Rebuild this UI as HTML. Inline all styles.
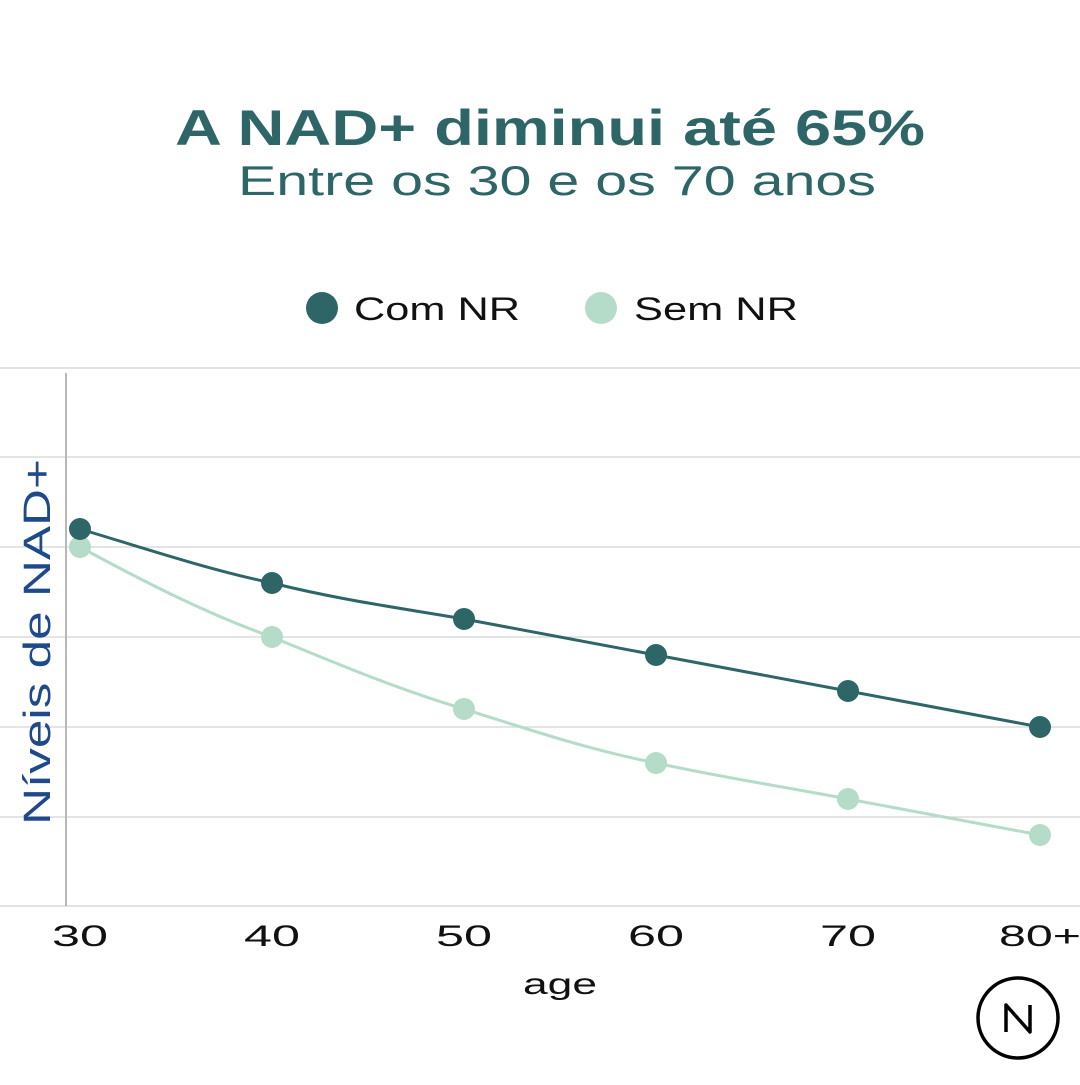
<!DOCTYPE html>
<html><head><meta charset="utf-8"><style>
html,body{margin:0;padding:0;background:#fff;}
body{width:1080px;height:1080px;overflow:hidden;}
</style></head><body>
<svg width="1080" height="1080" viewBox="0 0 1080 1080" xmlns="http://www.w3.org/2000/svg" font-family="Liberation Sans, sans-serif">
<rect width="1080" height="1080" fill="#fff"/>
<text x="550" y="145" text-anchor="middle" font-size="50" font-weight="bold" fill="#2e6667" textLength="750" lengthAdjust="spacingAndGlyphs">A NAD+ diminui até 65%</text>
<text x="557" y="195" text-anchor="middle" font-size="42" fill="#2e6667" textLength="638" lengthAdjust="spacingAndGlyphs">Entre os 30 e os 70 anos</text>
<circle cx="322" cy="308" r="16" fill="#2e6667"/>
<text x="354" y="320" font-size="32" fill="#111" textLength="166" lengthAdjust="spacingAndGlyphs">Com NR</text>
<circle cx="601" cy="308" r="16" fill="#b5dcc9"/>
<text x="634" y="320" font-size="32" fill="#111" textLength="164" lengthAdjust="spacingAndGlyphs">Sem NR</text>
<g stroke="#d4d4d4" stroke-width="1.2">
<line x1="0" y1="368" x2="1080" y2="368"/>
<line x1="0" y1="457" x2="1080" y2="457"/>
<line x1="0" y1="547" x2="1080" y2="547"/>
<line x1="0" y1="637" x2="1080" y2="637"/>
<line x1="0" y1="727" x2="1080" y2="727"/>
<line x1="0" y1="817" x2="1080" y2="817"/>
<line x1="0" y1="906" x2="1080" y2="906"/>
</g>
<line x1="66" y1="373" x2="66" y2="906" stroke="#b8b8b8" stroke-width="2"/>
<text transform="translate(50,642) rotate(-90)" text-anchor="middle" font-size="38" fill="#1f4a8a" textLength="366" lengthAdjust="spacingAndGlyphs">Níveis de NAD+</text>
<path d="M80,547 C150,585 210,615 272,637 C340,665 400,690 464,709 C530,730 590,750 656,763 C720,777 785,787 848,799 L1040,835" fill="none" stroke="#b5dcc9" stroke-width="3"/>
<path d="M80,529 C150,550 210,570 272,583 C340,600 400,608 464,619 L656,655 L848,691 L1040,727" fill="none" stroke="#2e6667" stroke-width="3"/>
<g fill="#b5dcc9">
<circle cx="80" cy="547" r="11"/><circle cx="272" cy="637" r="11"/><circle cx="464" cy="709" r="11"/><circle cx="656" cy="763" r="11"/><circle cx="848" cy="799" r="11"/><circle cx="1040" cy="835" r="11"/>
</g>
<g fill="#2e6667">
<circle cx="80" cy="529" r="11"/><circle cx="272" cy="583" r="11"/><circle cx="464" cy="619" r="11"/><circle cx="656" cy="655" r="11"/><circle cx="848" cy="691" r="11"/><circle cx="1040" cy="727" r="11"/>
</g>
<g font-size="30" fill="#111" text-anchor="middle">
<text x="80" y="946" textLength="56" lengthAdjust="spacingAndGlyphs">30</text>
<text x="272" y="946" textLength="56" lengthAdjust="spacingAndGlyphs">40</text>
<text x="464" y="946" textLength="56" lengthAdjust="spacingAndGlyphs">50</text>
<text x="656" y="946" textLength="56" lengthAdjust="spacingAndGlyphs">60</text>
<text x="848" y="946" textLength="56" lengthAdjust="spacingAndGlyphs">70</text>
<text x="1040" y="946" textLength="82" lengthAdjust="spacingAndGlyphs">80+</text>
<text x="560" y="994" textLength="74" lengthAdjust="spacingAndGlyphs">age</text>
</g>
<circle cx="1018" cy="1018" r="40" fill="none" stroke="#000" stroke-width="3.5"/>
<path d="M1006,1032 V1005 L1030,1032 V1005" fill="none" stroke="#000" stroke-width="3.5" stroke-linejoin="round"/>
</svg>
</body></html>
